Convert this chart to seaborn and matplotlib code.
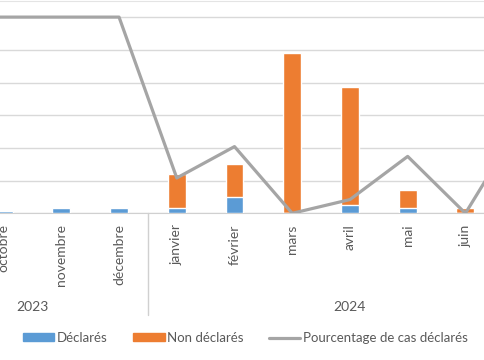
import numpy as np
import pandas as pd
import seaborn as sns
import matplotlib.pyplot as plt
from matplotlib.patches import Patch
from matplotlib.lines import Line2D

# monthly cases, Sept 2023 -> July 2024
months = ["septembre", "octobre", "novembre", "décembre", "janvier", "février",
          "mars", "avril", "mai", "juin", "juillet"]
years = ["2023", "2024"]
declares = [1, 0.5, 1, 1, 1, 3, 0, 1.6, 1, 0, 1]
non_declares = [0, 0, 0, 0, 6.2, 6, 29.4, 21.6, 3.2, 1, 1]
pct_declares = [100, 100, 100, 100, 18, 34, 0, 7, 29, 0, 48]

BLUE = "#5b9bd5"
ORANGE = "#ed7d31"
GREY = "#a5a5a5"
TXT = "#595959"


def main():
    sns.set_style("white")
    plt.rcParams["font.family"] = ["Lato", "DejaVu Sans"]

    df = pd.DataFrame({"mois": months, "declares": declares,
                       "non_declares": non_declares})
    df["total"] = df["declares"] + df["non_declares"]

    fig = plt.figure(figsize=(4.85, 3.6), dpi=100)
    # plot area is wider than the picture (cropped Excel chart)
    ax = fig.add_axes([-83 / 485, (360 - 213.3) / 360, 635 / 485, 212.6 / 360])

    sns.barplot(data=df, x="mois", y="total", color=ORANGE, saturation=1,
                width=0.31, ax=ax, zorder=2)
    sns.barplot(data=df, x="mois", y="declares", color=BLUE, saturation=1,
                width=0.31, ax=ax, zorder=3)

    ymax = 36 * 212.6 / 196.2
    ax.set_ylim(0, ymax)
    ax.set_xlim(-0.5, len(months) - 0.5)
    ax.set_yticks(np.arange(0, 37, 6))
    ax.yaxis.grid(True, color="#d9d9d9", linewidth=1)
    ax.set_axisbelow(True)
    ax.tick_params(axis="y", left=False, labelleft=False)
    ax.tick_params(axis="x", length=0, pad=8, labelsize=10, labelcolor=TXT)
    plt.setp(ax.get_xticklabels(), rotation=90, va="top", ha="center")
    ax.set_xlabel("")
    ax.set_ylabel("")
    for s in ["left", "right"]:
        ax.spines[s].set_visible(False)
    ax.spines["top"].set_color("#e4e4e4")
    ax.spines["bottom"].set_color("#d0d0d0")

    ax2 = ax.twinx()
    sns.lineplot(x=np.arange(len(months)), y=pct_declares, color=GREY,
                 linewidth=2.3, ax=ax2, zorder=4)
    ax2.set_ylim(0, 100 * 212.6 / 196.2)
    ax2.axis("off")

    # year grouping level under the month labels
    tr = ax.get_xaxis_transform()
    ax.plot([3.5, 3.5], [0, -0.478], transform=tr, color="#d0d0d0",
            linewidth=1, clip_on=False)
    ax.text(1.5, -0.44, years[0], transform=tr, ha="center", va="center",
            fontsize=10, color=TXT)
    ax.text(7, -0.44, years[1], transform=tr, ha="center", va="center",
            fontsize=10, color=TXT)

    handles = [Patch(color=BLUE, label="Déclarés"),
               Patch(color=ORANGE, label="Non déclarés"),
               Line2D([], [], color=GREY, linewidth=2.3,
                      label="Pourcentage de cas déclarés")]
    leg = fig.legend(handles=handles, loc="center", ncol=3,
                     bbox_to_anchor=(0.506, 0.061), frameon=False,
                     fontsize=9.5, handlelength=2.4, handleheight=0.55,
                     handletextpad=0.2, columnspacing=1.9)
    for t in leg.get_texts():
        t.set_color(TXT)

    fig.savefig("out.png", dpi=100)


if __name__ == "__main__":
    main()
